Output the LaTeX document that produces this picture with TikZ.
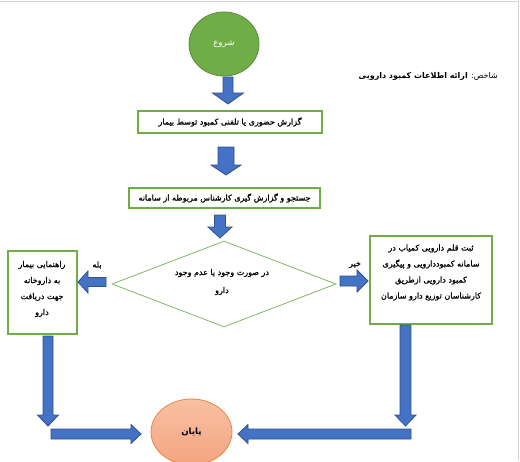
\documentclass[tikz,border=0pt]{standalone}
\usepackage{fontspec}
\usetikzlibrary{shapes.geometric,calc}
\TeXXeTstate=1
\newfontfamily\arabicfont[Script=Arabic,FakeBold=1]{DejaVu Sans}
\newfontfamily\arabicthin[Script=Arabic]{DejaVu Sans}
\newcommand\fa[1]{{\arabicfont\beginR #1\endR}}
\newcommand\fathin[1]{{\arabicthin\beginR #1\endR}}
\definecolor{grn}{HTML}{70AD47}
\definecolor{grnfill}{HTML}{70AD47}
\definecolor{arrblue}{HTML}{4472C4}
\definecolor{arredge}{HTML}{2F528F}
\definecolor{endtop}{HTML}{F8C0A3}
\definecolor{endbot}{HTML}{F4A47F}
\definecolor{endedge}{HTML}{EE8540}
\tikzset{
  blk/.style={fill=arrblue, draw=arredge, line width=0.6pt, line join=miter},
  boxnode/.style={draw=grn, line width=0.8pt, inner sep=0pt, font=\fontsize{6}{12}\selectfont},
  txt/.style={inner sep=0pt, align=center, font=\fontsize{6}{12}\selectfont},
}
% vertical block arrow: tail, tip, shaft half width, head half width, signed head offset
\newcommand\vblk[5]{\draw[blk] let \p1=(#1),\p2=(#2) in (\x1-#3,\y1) -- (\x1-#3,\y2#5) -- (\x1-#4,\y2#5) -- (\x1,\y2) -- (\x1+#4,\y2#5) -- (\x1+#3,\y2#5) -- (\x1+#3,\y1) -- cycle;}
% horizontal block arrow
\newcommand\hblk[5]{\draw[blk] let \p1=(#1),\p2=(#2) in (\x1,\y1-#3) -- (\x2#5,\y1-#3) -- (\x2#5,\y1-#4) -- (\x2,\y1) -- (\x2#5,\y1+#4) -- (\x2#5,\y1+#3) -- (\x1,\y1+#3) -- cycle;}
\begin{document}
\begin{tikzpicture}[x=0.75pt,y=-0.75pt]
\useasboundingbox (0,0) rectangle (520,461);
\fill[white] (0,0) rectangle (520,461);
\draw[gray!35, line width=0.75pt] (0,1) -- (518,1) -- (518,461);

% nodes
\node[ellipse, fill=grnfill, draw=grn!80!black, line width=0.6pt, inner sep=0pt,
      minimum width=52.5pt, minimum height=48pt, text=white,
      font=\fontsize{6.5}{8}\selectfont] (start) at (224,44) {\fathin{شروع}};
\node[txt, anchor=east] (title) at (498,76)
  {{\arabicthin\beginR شاخص: {\bfseries ارائه اطلاعات کمبود دارویی}\endR}};

\node[boxnode, minimum width=138pt, minimum height=16.5pt] (b1) at (230,122)
  {\fa{گزارش حضوری یا تلفنی کمبود توسط بیمار}};
\node[boxnode, minimum width=143.25pt, minimum height=15pt] (b2) at (224.5,198)
  {\fa{جستجو و گزارش گیری کارشناس مربوطه از سامانه}};

\node[diamond, draw=grn!85!white, line width=0.6pt, inner sep=0pt,
      minimum width=168pt, minimum height=64.5pt] (dec) at (224,284) {};
\node[txt, font=\fontsize{6}{13.5}\selectfont] (decT) at (222,282)
  {\fa{در صورت وجود یا عدم وجود}\\\fa{دارو}};

\node[boxnode, minimum width=51.75pt, minimum height=62.25pt] (lb) at (42.5,292.5) {};
\node[txt] (lbT) at (42,289)
  {\fa{راهنمایی بیمار}\\\fa{به داروخانه}\\\fa{جهت دریافت}\\\fa{دارو}};

\node[boxnode, minimum width=91.5pt, minimum height=66pt] (rb) at (431,280) {};
\node[txt] (rbT) at (431,272.5)
  {\fa{ثبت قلم دارویی کمیاب در}\\\fa{سامانه کمبوددارویی و پیگیری}\\\fa{کمبود دارویی ازطریق}\\\fa{کارشناسان توزیع دارو سازمان}};

\node[ellipse, top color=endtop, bottom color=endbot, draw=endedge, line width=0.6pt,
      inner sep=0pt, minimum width=60.75pt, minimum height=49.5pt,
      font=\fontsize{6.5}{8}\selectfont\bfseries] (end) at (191.5,432) {\fathin{پایان}};

\node[txt] (yes) at (97,265) {\fa{بله}};
\node[txt] (no) at (355,265) {\fa{خیر}};

% arrow end points
\coordinate (a1s) at (228,77);   \coordinate (a1e) at (228,104);
\coordinate (a2s) at (226,147);  \coordinate (a2e) at (226,175);
\coordinate (a3s) at (220,215);  \coordinate (a3e) at (220,238);
\coordinate (a4s) at (106,282);  \coordinate (a4e) at (78,282);
\coordinate (a5s) at (340,281);  \coordinate (a5e) at (368,281);
\coordinate (a6s) at (48,336);   \coordinate (a6e) at (48,426);
\coordinate (a7s) at (405.5,325);\coordinate (a7e) at (405.5,426);
\coordinate (a8s) at (51,434);   \coordinate (a8e) at (141,434);
\coordinate (a9s) at (411,434);  \coordinate (a9e) at (238,434);

\vblk{a1s}{a1e}{3.75pt}{11.6pt}{+8.25pt}
\vblk{a2s}{a2e}{6pt}{11.25pt}{+7.5pt}
\vblk{a3s}{a3e}{4.1pt}{9pt}{+8.25pt}
\hblk{a4s}{a4e}{3.4pt}{8.25pt}{+7.5pt}
\hblk{a5s}{a5e}{3.75pt}{8.25pt}{-8.25pt}
\vblk{a6s}{a6e}{3.75pt}{7.9pt}{+8.25pt}
\vblk{a7s}{a7e}{4.1pt}{7.9pt}{+8.25pt}
\hblk{a8s}{a8e}{3.75pt}{7.1pt}{-7.5pt}
\hblk{a9s}{a9e}{3.75pt}{7.1pt}{+7.5pt}
\end{tikzpicture}
\end{document}
